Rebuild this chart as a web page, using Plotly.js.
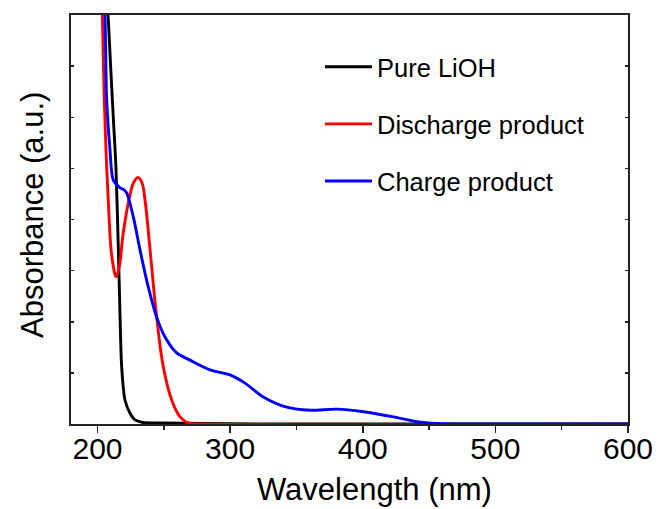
<!DOCTYPE html>
<html>
<head>
<meta charset="utf-8">
<script src="https://cdn.plot.ly/plotly-3.0.1.min.js"></script>
<style>html,body{margin:0;padding:0;background:#fff;}#chart{width:659px;height:509px;}</style>
</head>
<body>
<div id="chart"></div>
<script>
// Pure LiOH
var lioh_x = [200, 204, 207.9, 209.9, 211.9, 213.9, 215.7, 217.0, 218.2, 220.7, 224.5, 228.3, 234.3, 250, 280, 320, 600];
var lioh_y = [11.5, 9.3, 8.0, 6.99, 5.99, 5.01, 3.41, 2.09, 1.12, 0.47, 0.21, 0.08, 0.03, 0.02, 0.01, 0, 0];
// Discharge product
var dis_x = [200, 203.6, 205.1, 206.9, 208.1, 208.7, 210.2, 211.9, 213.9, 216.4, 219.4, 224.5, 227.5, 230.8, 233.5, 235.8, 239.6, 244.6, 249.6, 255.9, 262.2, 268.5, 280, 600];
var dis_y = [10.5, 8.0, 6.34, 5.03, 4.38, 4.05, 3.41, 3.08, 2.88, 3.08, 3.74, 4.48, 4.74, 4.82, 4.72, 4.38, 3.41, 2.09, 1.12, 0.47, 0.14, 0.02, 0, 0];
// Charge product
var chg_x = [200, 205.6, 206.9, 209.4, 211.9, 217.0, 220.0, 222.0, 227.0, 232.0, 237.5, 244.6, 250.9, 259.7, 269.7, 284.8, 299.9, 311.2, 325.0, 342.7, 360.2, 380.4, 400.4, 423.1, 440.7, 455.8, 480, 600];
var chg_y = [11.0, 8.0, 6.34, 5.36, 4.77, 4.62, 4.58, 4.52, 4.05, 3.41, 2.76, 2.09, 1.70, 1.39, 1.25, 1.06, 0.96, 0.80, 0.53, 0.33, 0.27, 0.29, 0.24, 0.14, 0.045, 0.01, 0, 0];

var seriesNames = ['Pure LiOH', 'Discharge product', 'Charge product'];
var xTickVals = [200, 300, 400, 500, 600];
var xTickText = ['200', '300', '400', '500', '600'];

var font = 'Liberation Sans, Arial, sans-serif';
function tr(x, y, name, color, grp, sm) {
  return {x: x, y: y, name: name, type: 'scatter', mode: 'lines', legendgroup: grp,
          line: {color: color, width: 2.9, shape: 'spline', smoothing: sm}};
}
var data = [
  tr(lioh_x, lioh_y, seriesNames[0], '#000000', 'a', 0.8),
  tr(dis_x, dis_y, seriesNames[1], '#ff0000', 'b', 1.2),
  tr(chg_x, chg_y, seriesNames[2], '#0000ff', 'c', 0.8)
];

var layout = {
  width: 659, height: 509,
  margin: {l: 71, r: 31, t: 15, b: 85},
  paper_bgcolor: '#fff', plot_bgcolor: '#fff',
  font: {family: font, color: '#000'},
  showlegend: true,
  legend: {x: 0.447, xanchor: 'left', y: 0.93, yanchor: 'top', bgcolor: 'rgba(0,0,0,0)',
           font: {size: 25.5, family: font, color: '#000'}, itemwidth: 47, tracegroupgap: 21},
  xaxis: {range: [180, 600], tickvals: xTickVals, ticktext: xTickText, ticks: 'outside', ticklen: 7, tickwidth: 1.5,
          tickcolor: '#222', showline: true, linecolor: '#222', linewidth: 2, mirror: true,
          showgrid: false, zeroline: false, tickfont: {size: 30, family: font, color: '#000'},
          ticklabelstandoff: -10,
          minor: {dtick: 50, tick0: 0, ticks: 'outside', ticklen: 4, tickwidth: 1.5, tickcolor: '#222'}},
  xaxis2: {range: [180, 600], overlaying: 'x', side: 'top', anchor: 'y', dtick: 50, tick0: 0,
           ticks: 'inside', ticklen: 2, tickwidth: 1.5, tickcolor: '#222', showticklabels: false,
           showgrid: false, zeroline: false, showline: false},
  yaxis: {range: [0, 8], dtick: 1, ticks: 'inside', ticklen: 3, tickwidth: 1.5, tickcolor: '#222',
          showticklabels: false, showline: true, linecolor: '#222', linewidth: 2, mirror: 'ticks',
          showgrid: false, zeroline: false},
  annotations: [
    {text: 'Wavelength (nm)', xref: 'paper', yref: 'paper', x: 0.544, y: -0.161, xanchor: 'center', yanchor: 'middle',
     showarrow: false, font: {size: 31, family: font, color: '#000'}},
    {text: 'Absorbance (a.u.)', xref: 'paper', yref: 'paper', x: -0.070, y: 0.511, xanchor: 'center', yanchor: 'middle',
     textangle: -90, showarrow: false, font: {size: 31, family: font, color: '#000'}}
  ]
};
Plotly.newPlot('chart', data, layout, {displayModeBar: false, staticPlot: true});
</script>
</body>
</html>
